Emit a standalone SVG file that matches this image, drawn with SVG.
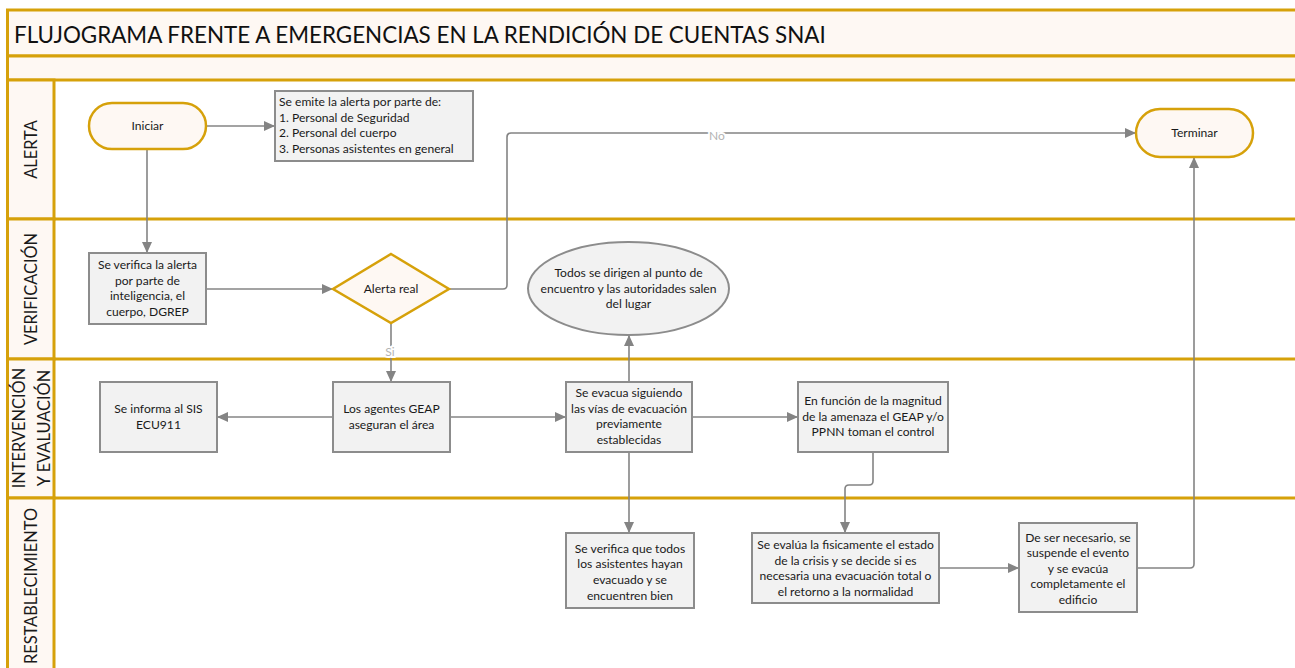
<svg xmlns="http://www.w3.org/2000/svg" width="1295" height="668" viewBox="0 0 1295 668">
<style>
.band{fill:#FEF8F3;stroke:#D6A10A;stroke-width:3}
.lane{fill:none;stroke:#D6A10A;stroke-width:3}
.proc{fill:#F2F2F2;stroke:#8C8C8C;stroke-width:2}
.term{fill:#FEF8F3;stroke:#D6A10A;stroke-width:2.5}
.t{font-family:Lato,"Liberation Sans",sans-serif;font-size:12.1px;fill:#1A1A1A;text-anchor:middle}
.tl{font-family:Lato,"Liberation Sans",sans-serif;font-size:12.1px;fill:#1A1A1A}
.lab{font-family:Lato,"Liberation Sans",sans-serif;font-size:16.4px;fill:#1A1A1A;text-anchor:middle}
.title{font-family:Lato,"Liberation Sans",sans-serif;font-size:22.4px;fill:#111}
.c{fill:none;stroke:#848484;stroke-width:1.6}
.cl{font-family:Lato,"Liberation Sans",sans-serif;font-size:12px;fill:#B3B3B3;text-anchor:middle;stroke:#FFFFFF;stroke-width:4;paint-order:stroke}
</style>
<defs>
<marker id="ah" markerUnits="userSpaceOnUse" markerWidth="12" markerHeight="10" refX="11" refY="5" orient="auto">
<path d="M0,0 L11,5 L0,10 Z" fill="#848484"/>
</marker>
</defs>
<rect width="1295" height="668" fill="#FFFFFF"/>
<g id="frame">
<rect class="band" x="7.5" y="10" width="1300" height="46"/>
<rect class="band" x="7.5" y="56" width="1300" height="24"/>
<rect class="band" x="7.5" y="80" width="46.5" height="139"/>
<rect class="band" x="7.5" y="219" width="46.5" height="140"/>
<rect class="band" x="7.5" y="359" width="46.5" height="139"/>
<rect class="band" x="7.5" y="498" width="46.5" height="180"/>
<line class="lane" x1="54" y1="219" x2="1300" y2="219"/>
<line class="lane" x1="54" y1="359" x2="1300" y2="359"/>
<line class="lane" x1="54" y1="498" x2="1300" y2="498"/>
<text class="title" x="14" y="43">FLUJOGRAMA FRENTE A EMERGENCIAS EN LA RENDICIÓN DE CUENTAS SNAI</text>
<text class="lab" transform="translate(37,149.5) rotate(-90)">ALERTA</text>
<text class="lab" transform="translate(37,289) rotate(-90)">VERIFICACIÓN</text>
<text class="lab" transform="translate(25,428) rotate(-90)">INTERVENCIÓN</text>
<text class="lab" transform="translate(49.5,428) rotate(-90)">Y EVALUACIÓN</text>
<text class="lab" transform="translate(37,586) rotate(-90)">RESTABLECIMIENTO</text>
</g>
<g id="connectors">
<path class="c" d="M206,126 H275" marker-end="url(#ah)"/>
<path class="c" d="M147,149 V253" marker-end="url(#ah)"/>
<path class="c" d="M206,289 H333" marker-end="url(#ah)"/>
<path class="c" d="M449,289 H503 Q507,289 507,285 V137 Q507,133 511,133 H1136" marker-end="url(#ah)"/>
<path class="c" d="M391,323 V382" marker-end="url(#ah)"/>
<path class="c" d="M333,417 H217" marker-end="url(#ah)"/>
<path class="c" d="M450,417 H566" marker-end="url(#ah)"/>
<path class="c" d="M629,382 V335" marker-end="url(#ah)"/>
<path class="c" d="M692,417 H798" marker-end="url(#ah)"/>
<path class="c" d="M629,452 V533" marker-end="url(#ah)"/>
<path class="c" d="M873,452 V481 Q873,485 869,485 H849 Q845,485 845,489 V533" marker-end="url(#ah)"/>
<path class="c" d="M939,568 H1019" marker-end="url(#ah)"/>
<path class="c" d="M1137,568 H1190 Q1194,568 1194,564 V157" marker-end="url(#ah)"/>
<text class="cl" x="717" y="139.5">No</text>
<text class="cl" x="390" y="356">Si</text>
</g>
<g id="n-iniciar">
<rect class="term" x="89" y="103" width="117" height="46" rx="23"/>
<text class="t" x="147.5" y="130">Iniciar</text>
</g>
<g id="n-alerta">
<rect class="proc" x="275" y="91" width="198" height="70"/>
<text class="tl" x="279" y="106">Se emite la alerta por parte de:<tspan x="279" dy="15.7">1. Personal de Seguridad</tspan><tspan x="279" dy="15.7">2. Personal del cuerpo</tspan><tspan x="279" dy="15.7">3. Personas asistentes en general</tspan></text>
</g>
<g id="n-terminar">
<rect class="term" x="1136" y="109" width="117" height="48" rx="24"/>
<text class="t" x="1194.5" y="137">Terminar</text>
</g>
<g id="n-verifica">
<rect class="proc" x="89" y="253" width="117" height="71"/>
<text class="t" x="147.5" y="269">Se verifica la alerta<tspan x="147.5" dy="15.5">por parte de</tspan><tspan x="147.5" dy="15.5">inteligencia, el</tspan><tspan x="147.5" dy="15.5">cuerpo, DGREP</tspan></text>
</g>
<g id="n-decision">
<path class="term" d="M391,254 L449,289 L391,323 L333,289 Z"/>
<text class="t" x="391" y="293">Alerta real</text>
</g>
<g id="n-punto">
<ellipse cx="628.5" cy="288.5" rx="100.5" ry="46.5" fill="#F2F2F2" stroke="#8C8C8C" stroke-width="2"/>
<text class="t" x="628.5" y="277">Todos se dirigen al punto de<tspan x="628.5" dy="15.7">encuentro y las autoridades salen</tspan><tspan x="628.5" dy="15.7">del lugar</tspan></text>
</g>
<g id="n-sis">
<rect class="proc" x="100" y="382" width="117" height="70"/>
<text class="t" x="158.5" y="412.5">Se informa al SIS<tspan x="158.5" dy="16">ECU911</tspan></text>
</g>
<g id="n-geap">
<rect class="proc" x="333" y="382" width="117" height="70"/>
<text class="t" x="391.5" y="412.5">Los agentes GEAP<tspan x="391.5" dy="16">aseguran el área</tspan></text>
</g>
<g id="n-evacua">
<rect class="proc" x="566" y="382" width="126" height="70"/>
<text class="t" x="629" y="397">Se evacua siguiendo<tspan x="629" dy="15.7">las vías de evacuación</tspan><tspan x="629" dy="15.7">previamente</tspan><tspan x="629" dy="15.7">establecidas</tspan></text>
</g>
<g id="n-funcion">
<rect class="proc" x="798" y="382" width="150" height="70"/>
<text class="t" x="873" y="405">En función de la magnitud<tspan x="873" dy="15.7">de la amenaza el GEAP y/o</tspan><tspan x="873" dy="15.7">PPNN toman el control</tspan></text>
</g>
<g id="n-verifica-todos">
<rect class="proc" x="566" y="533" width="128" height="75"/>
<text class="t" x="630" y="552.5">Se verifica que todos<tspan x="630" dy="15.8">los asistentes hayan</tspan><tspan x="630" dy="15.8">evacuado y se</tspan><tspan x="630" dy="15.8">encuentren bien</tspan></text>
</g>
<g id="n-evalua">
<rect class="proc" x="752" y="533" width="187" height="70"/>
<text class="t" x="845.5" y="549">Se evalúa la fisicamente el estado<tspan x="845.5" dy="15.6">de la crisis y se decide si es</tspan><tspan x="845.5" dy="15.6">necesaria una evacuación total o</tspan><tspan x="845.5" dy="15.6">el retorno a la normalidad</tspan></text>
</g>
<g id="n-suspende">
<rect class="proc" x="1019" y="523" width="118" height="89"/>
<text class="t" x="1078" y="541.5">De ser necesario, se<tspan x="1078" dy="15.5">suspende el evento</tspan><tspan x="1078" dy="15.5">y se evacúa</tspan><tspan x="1078" dy="15.5">completamente el</tspan><tspan x="1078" dy="15.5">edificio</tspan></text>
</g>
</svg>
